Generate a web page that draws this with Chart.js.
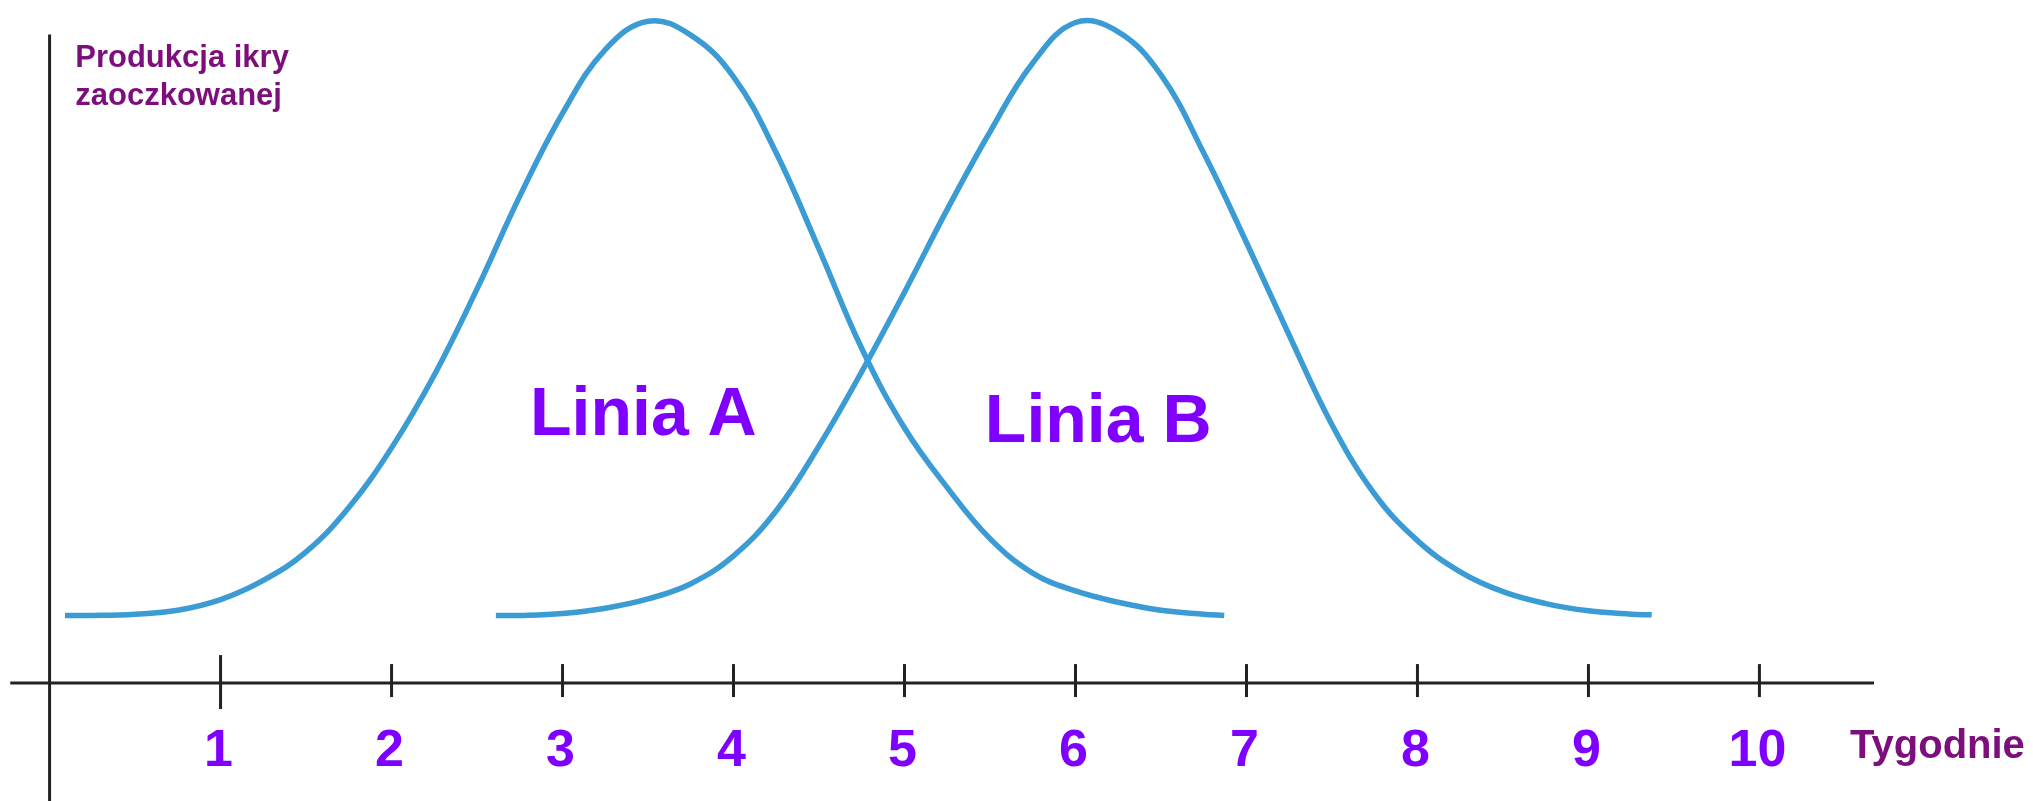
<!DOCTYPE html>
<html>
<head>
<meta charset="utf-8">
<script src="https://cdn.jsdelivr.net/npm/chart.js@4/dist/chart.umd.min.js"></script>
<style>
  html, body { margin: 0; padding: 0; background: #fff; }
  #wrap { width: 2033px; height: 801px; }
</style>
</head>
<body>
<div id="wrap"><canvas id="myChart" width="2033" height="801"></canvas></div>
<script>
// tick labels under the x axis
var weekTicks = [1, 2, 3, 4, 5, 6, 7, 8, 9, 10];

// Linia A (weeks / production)
var weeksA = [0.09, 0.25, 0.50, 0.75, 1.00, 1.25, 1.50, 1.75, 2.00, 2.25, 2.50, 2.75, 3.00, 3.25, 3.50, 3.75, 4.00, 4.25, 4.50, 4.75, 5.00, 5.25, 5.50, 5.75, 6.00, 6.25, 6.50, 6.75, 6.87];
var prodA  = [10.2, 10.2, 10.4, 11.0, 12.6, 15.5, 19.8, 26.5, 35.5, 46.5, 59.5, 73.5, 86.0, 95.6, 99.9, 97.8, 91.5, 80.0, 65.5, 50.5, 38.5, 29.5, 21.8, 16.6, 13.9, 12.2, 11.0, 10.4, 10.2];

// Linia B
var weeksB = [2.61, 2.75, 3.00, 3.25, 3.50, 3.75, 4.00, 4.25, 4.50, 4.75, 5.00, 5.25, 5.50, 5.75, 6.00, 6.25, 6.50, 6.75, 7.00, 7.25, 7.50, 7.75, 8.00, 8.25, 8.50, 8.75, 9.00, 9.25, 9.37];
var prodB  = [10.2, 10.2, 10.5, 11.3, 12.7, 15.0, 19.2, 26.0, 35.8, 47.0, 59.0, 71.5, 83.2, 93.6, 99.7, 98.3, 91.8, 80.0, 66.5, 52.5, 39.0, 28.5, 21.5, 16.8, 13.8, 12.0, 10.9, 10.4, 10.3];

var curveColor = '#3b9bd4';
var violet = '#7f00ff';
var darkPurple = '#7d0f7d';

function pts(xs, ys) {
    return xs.map(function(x, i) { return { x: x, y: ys[i] }; });
}

// axes, ticks and all the texts
var sketchPlugin = {
    id: 'sketch',
    beforeDatasetsDraw: function(chart) {
        var ctx = chart.ctx;
        var xs = chart.scales.x, ys = chart.scales.y;
        var x0 = xs.getPixelForValue(0), y0 = ys.getPixelForValue(0);
        ctx.save();
        ctx.strokeStyle = '#222';
        ctx.lineWidth = 3;
        ctx.beginPath();
        ctx.moveTo(xs.getPixelForValue(-0.23), y0);
        ctx.lineTo(xs.getPixelForValue(10.67), y0);
        ctx.moveTo(x0, ys.getPixelForValue(97.9));
        ctx.lineTo(x0, chart.height);
        ctx.stroke();

        weekTicks.forEach(function(w) {
            var px = xs.getPixelForValue(w);
            var up = w === 1 ? 28 : 19, down = w === 1 ? 26 : 14;
            ctx.beginPath();
            ctx.moveTo(px, y0 - up);
            ctx.lineTo(px, y0 + down);
            ctx.stroke();
        });
        ctx.restore();
    },
    afterDraw: function(chart) {
        var ctx = chart.ctx;
        var xs = chart.scales.x, ys = chart.scales.y;
        ctx.save();
        ctx.textBaseline = 'alphabetic';

        // tick labels
        ctx.fillStyle = violet;
        ctx.font = 'bold 52px "Liberation Sans", Arial, sans-serif';
        ctx.textAlign = 'center';
        weekTicks.forEach(function(w) {
            ctx.fillText(String(w), xs.getPixelForValue(w) - 2, ys.getPixelForValue(0) + 83);
        });

        // series labels
        ctx.textAlign = 'left';
        ctx.font = 'bold 68px "Liberation Sans", Arial, sans-serif';
        ctx.fillText('Linia A', xs.getPixelForValue(2.81), ys.getPixelForValue(37.4));
        ctx.fillText('Linia B', xs.getPixelForValue(5.47), ys.getPixelForValue(36.4));

        // axis titles
        ctx.fillStyle = darkPurple;
        ctx.font = 'bold 31px "Liberation Sans", Arial, sans-serif';
        ctx.fillText('Produkcja ikry', xs.getPixelForValue(0.15), ys.getPixelForValue(93.0));
        ctx.fillText('zaoczkowanej', xs.getPixelForValue(0.15), ys.getPixelForValue(87.2));
        ctx.font = 'bold 40px "Liberation Sans", Arial, sans-serif';
        ctx.fillText('Tygodnie', xs.getPixelForValue(10.53), ys.getPixelForValue(-11.3));
        ctx.restore();
    }
};

var ctx = document.getElementById('myChart').getContext('2d');
var chart = new Chart(ctx, {
    type: 'line',
    data: {
        datasets: [{
            label: 'Linia A',
            data: pts(weeksA, prodA),
            borderColor: curveColor,
            borderWidth: 5.5,
            pointRadius: 0,
            tension: 0.4,
            fill: false
        }, {
            label: 'Linia B',
            data: pts(weeksB, prodB),
            borderColor: curveColor,
            borderWidth: 5.5,
            pointRadius: 0,
            tension: 0.4,
            fill: false
        }]
    },
    options: {
        responsive: false,
        animation: false,
        layout: { padding: 0 },
        plugins: {
            legend: { display: false },
            tooltip: { enabled: false }
        },
        scales: {
            x: { type: 'linear', min: -0.29, max: 11.6, display: false },
            y: { type: 'linear', min: -17.8, max: 103.1, display: false }
        }
    },
    plugins: [sketchPlugin]
});
</script>
</body>
</html>
